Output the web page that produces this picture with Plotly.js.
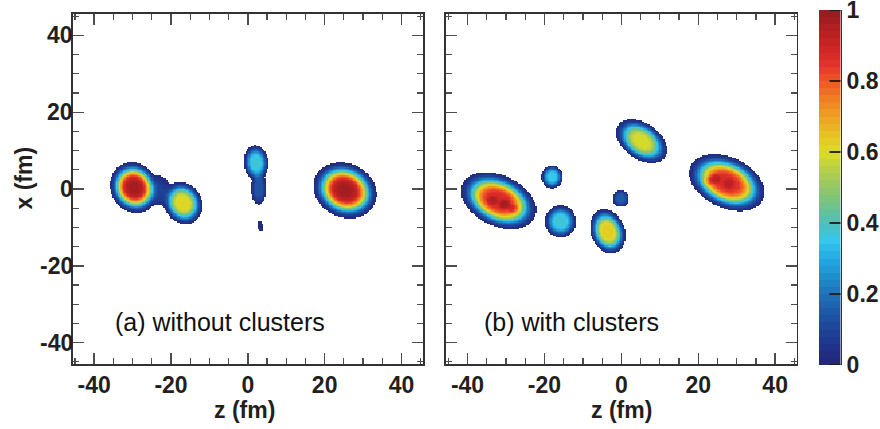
<!DOCTYPE html>
<html><head><meta charset="utf-8">
<script src="https://cdn.plot.ly/plotly-3.0.1.min.js"></script>
<style>html,body{margin:0;padding:0;background:#fff}</style>
</head><body><div id="chart" style="width:880px;height:429px"></div>
<script>
// ---- data: density blobs ----
// panel (a) without clusters: centre z, centre x (fm), peak density, half-axes at the visible edge (fm), tilt (deg)
const aZ     = [-29.6, -16.9, -23.0, 2.1, 2.8, 3.2, 25.3];
const aX     = [0.4, -3.6, -0.4, 6.9, 0.2, -9.6, -0.3];
const aPeak  = [0.97, 0.62, 0.08, 0.38, 0.14, 0.04, 0.97];
const aMajor = [6.8, 5.7, 3.8, 4.6, 4.2, 1.3, 8.5];
const aMinor = [6.1, 4.9, 2.8, 3.2, 2.0, 0.7, 7.0];
const aAngle = [-60, -60, 90, 95, 90, 100, -25];
// panel (b) with clusters (last six entries: small lumps inside the two big nuclei)
const bZ     = [-31.9, -18.0, -15.8, -3.5, -0.1, 5.3, 27.5, -30.3, -33.5, -28.0, 24.4, 28.0, 22.5];
const bX     = [-3.0, 3.2, -8.4, -11.0, -2.4, 12.5, 1.7, -3.9, -3.0, -5.2, 2.7, 1.5, 2.0];
const bPeak  = [0.88, 0.36, 0.38, 0.64, 0.16, 0.60, 0.87, 0.09, 0.07, 0.08, 0.09, 0.07, 0.08];
const bMajor = [10.4, 3.0, 4.2, 6.0, 2.2, 7.4, 10.4, 1.6, 1.5, 1.5, 1.6, 1.5, 1.5];
const bMinor = [6.6, 2.8, 4.1, 4.4, 2.1, 4.7, 6.6, 1.4, 1.3, 1.3, 1.4, 1.3, 1.3];
const bAngle = [-25, 90, 90, -70, 90, -35, -25, 0, 0, 0, 0, 0, 0];
// ticks and labels
const tickVals = [-40, -20, 0, 20, 40];
const tickText = ['-40', '-20', '0', '20', '40'];
const cbVals = [0, 0.2, 0.4, 0.6, 0.8, 1];
const cbText = ['0', '0.2', '0.4', '0.6', '0.8', '1'];
const labelA = '(a) without clusters';
const labelB = '(b) with clusters';
const xTitle = 'z (fm)';
const yTitle = 'x (fm)';

// ---- palette (style) ----
const palStops = [0,0.05,0.1,0.15,0.2,0.25,0.3,0.35,0.4,0.45,0.5,0.55,0.6,0.65,0.7,0.75,0.8,0.85,0.9,0.95,1];
const palHex = ['#242676','#20328a','#1e4498','#1f5aa8','#1f72b8','#1e8ecc','#22aae4','#36c6ee','#4ec0b8','#70c38a','#94c766','#b8d048','#dcdc26','#e7c223','#eea025','#f07d22','#ee5626','#e2302a','#cc2525','#b01f22','#931b1f'];
function hex2rgb(h){return [parseInt(h.slice(1,3),16),parseInt(h.slice(3,5),16),parseInt(h.slice(5,7),16)];}
function palAt(t){
  for(let i=0;i<palStops.length-1;i++){
    if(t<=palStops[i+1]){
      const f=(t-palStops[i])/(palStops[i+1]-palStops[i]);
      const c0=hex2rgb(palHex[i]), c1=hex2rgb(palHex[i+1]);
      return 'rgb('+c0.map((v,k)=>Math.round(v+(c1[k]-v)*f)).join(',')+')';
    }
  }
  return palHex[palHex.length-1];
}
const NB=50, colorscale=[];
for(let i=0;i<NB;i++){const c=palAt((i+0.5)/NB); colorscale.push([i/NB,c]); colorscale.push([(i+1)/NB,c]);}

// ---- grid evaluation of the blobs ----
const EDGE=0.02, PEXP=4.0, LIM=45.6, STEP=0.35;
const grid=[]; for(let v=-LIM; v<=LIM+1e-9; v+=STEP) grid.push(+v.toFixed(3));
function field(Z,X,P,MA,MI,AN){
  const out=[];
  for(const x of grid){
    const row=[];
    for(const z of grid){
      let s=0;
      for(let k=0;k<Z.length;k++){
        const th=AN[k]*Math.PI/180, dz=z-Z[k], dx=x-X[k];
        const u=dz*Math.cos(th)+dx*Math.sin(th), w=-dz*Math.sin(th)+dx*Math.cos(th);
        const r=Math.sqrt((u/MA[k])**2+(w/MI[k])**2)*Math.pow(Math.log(P[k]/EDGE),1/PEXP);
        s+=P[k]*Math.exp(-Math.pow(r,PEXP));
      }
      row.push(s<EDGE?null:Math.min(s,1));
    }
    out.push(row);
  }
  return out;
}
// colour-bar strip: one cell per palette band
const barY=[], barZ=[];
for(let i=0;i<NB;i++){barY.push((i+0.5)/NB); barZ.push([(i+0.5)/NB]);}

const traces=[
  {type:'heatmap',x:grid,y:grid,z:field(aZ,aX,aPeak,aMajor,aMinor,aAngle),coloraxis:'coloraxis',zsmooth:false,hoverinfo:'skip',xaxis:'x',yaxis:'y'},
  {type:'heatmap',x:grid,y:grid,z:field(bZ,bX,bPeak,bMajor,bMinor,bAngle),coloraxis:'coloraxis',zsmooth:false,hoverinfo:'skip',xaxis:'x2',yaxis:'y2'},
  {type:'heatmap',x:[0.5],y:barY,z:barZ,coloraxis:'coloraxis',zsmooth:false,hoverinfo:'skip',xaxis:'x3',yaxis:'y3'}
];

const F='"Liberation Sans", Arial, sans-serif';
const fontBold={family:F,size:23,color:'#231f20',weight:'bold'};
function ax(extra){
  return Object.assign({range:[-LIM,LIM],tickmode:'array',tickvals:tickVals,ticktext:tickText,
    ticks:'inside',ticklen:11,tickwidth:1.5,tickcolor:'#4d4d4d',
    minor:{dtick:5,tick0:0,ticks:'inside',ticklen:6,tickwidth:1.2,tickcolor:'#4d4d4d'},
    showline:true,linewidth:1.6,linecolor:'#333',mirror:'ticks',showgrid:false,zeroline:false,
    tickfont:fontBold,fixedrange:true},extra);
}
const yD=[1-364/429,1-14/429];
const cbTop=10, cbBot=365, cbL=819, cbR=840.5;
// y tick labels of panel (a) hug the frame, as in the original
const yLabelAnn=tickVals.map((v,i)=>({xref:'paper',yref:'y',x:73/880,y:v,xanchor:'right',yanchor:'middle',
  text:tickText[i],showarrow:false,borderpad:0,xshift:1,font:fontBold}));
// colour-bar tick marks over the strip (unclipped, paper x, value y)
const cbTickShapes=cbVals.map(v=>({type:'line',layer:'above',xref:'paper',yref:'y3',x0:(cbR-11)/880,x1:cbR/880,y0:v,y1:v,line:{color:'#1a1a1a',width:1.8}}));
const layout={
  width:880,height:429,margin:{l:0,r:0,t:0,b:0},paper_bgcolor:'#fff',plot_bgcolor:'#fff',showlegend:false,
  xaxis:ax({domain:[72.7/880,423/880],anchor:'y'}),
  yaxis:ax({domain:yD,anchor:'x',showticklabels:false}),
  xaxis2:ax({domain:[446/880,796.7/880],anchor:'y2'}),
  yaxis2:ax({domain:yD,anchor:'x2',showticklabels:false}),
  xaxis3:{domain:[cbL/880,cbR/880],anchor:'y3',range:[0,1],visible:false,fixedrange:true},
  yaxis3:{domain:[1-cbBot/429,1-cbTop/429],anchor:'x3',side:'right',range:[0,1],tickmode:'array',tickvals:cbVals,ticktext:cbText,
    ticks:'',showline:true,linewidth:1.5,linecolor:'#333',mirror:false,ticklabeloverflow:'allow',
    showgrid:false,zeroline:false,tickfont:fontBold,fixedrange:true},
  coloraxis:{cmin:0,cmax:1,colorscale:colorscale,showscale:false},
  shapes:cbTickShapes,
  annotations:yLabelAnn.concat([
    {xref:'x domain',yref:'paper',x:0.49,y:(429-409.5)/429,xanchor:'center',yanchor:'middle',text:xTitle,showarrow:false,font:fontBold},
    {xref:'x2 domain',yref:'paper',x:0.5,y:(429-409.5)/429,xanchor:'center',yanchor:'middle',text:xTitle,showarrow:false,font:fontBold},
    {xref:'paper',yref:'y domain',x:23/880,y:0.53,xanchor:'center',yanchor:'middle',textangle:-90,text:yTitle,showarrow:false,font:fontBold},
    {xref:'x',yref:'y',x:-35.2,y:-34.6,xanchor:'left',yanchor:'middle',text:labelA,showarrow:false,font:{family:F,size:25,color:'#111'}},
    {xref:'x2',yref:'y2',x:-36.3,y:-34.6,xanchor:'left',yanchor:'middle',text:labelB,showarrow:false,font:{family:F,size:25,color:'#111'}}
  ])
};
Plotly.newPlot('chart',traces,layout,{staticPlot:true,displayModeBar:false});
</script></body></html>
